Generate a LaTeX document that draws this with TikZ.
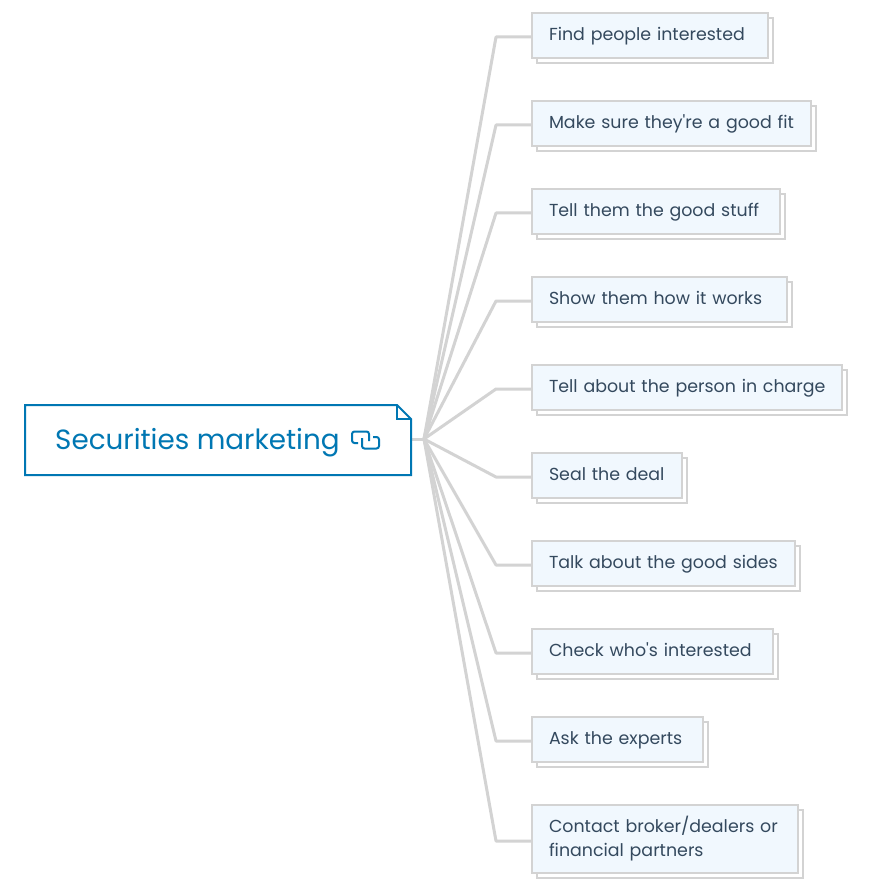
\documentclass[tikz,border=0pt]{standalone}
\usepackage{fontspec}
\setmainfont{Poppins}[Ligatures=TeXOff]
\usetikzlibrary{shadows}
\definecolor{mainblue}{HTML}{0077B3}
\definecolor{linegray}{HTML}{D3D3D3}
\definecolor{itemfill}{HTML}{F1F8FE}
\definecolor{itemtext}{HTML}{34495E}
\tikzset{
  conn/.style={draw=linegray,line width=3pt,line join=round},
  itembox/.style={draw=linegray,line width=2.4pt,fill=itemfill,text=itemtext,
    anchor=north west,outer sep=0pt,inner xsep=17pt,inner ysep=0pt,align=left,
    font=\fontsize{17.4}{24}\selectfont,minimum height=45pt,text height=14pt,text depth=4pt,
    copy shadow={draw=linegray,fill=white,line width=2.4pt,shadow xshift=5pt,shadow yshift=-5pt}},
  mainbox/.style={draw=mainblue,line width=2pt,line join=miter},
  maintext/.style={text=mainblue,anchor=base west,inner sep=0pt,font=\fontsize{27.8}{30}\selectfont},
  iconline/.style={draw=mainblue,line width=2pt,rounded corners=2.5pt}
}
\begin{document}
\begin{tikzpicture}[x=1pt,y=-1pt]
\useasboundingbox (0,0) rectangle (868,890);
\fill[white] (0,0) rectangle (868,890);
\coordinate (hub) at (424,439);
\coordinate (mainright) at (411,439);
\foreach \n/\y in {n1/37,n2/125,n3/213,n4/301,n5/389,n6/477,n7/565,n8/653,n9/741,n10/841}{
  \coordinate (\n elbow) at (496,\y);
  \coordinate (\n end) at (533,\y);
  \draw[conn] (hub) -- (\n elbow) -- (\n end);
}
\draw[conn] (mainright) -- (hub);
\draw[mainbox,fill=white] (25,405) -- (397,405) -- (411,419) -- (411,475) -- (25,475) -- cycle;
\draw[mainbox] (397,405) -- (397,419) -- (411,419);
\node[maintext] (title) at (55,449) {Securities marketing};
\draw[iconline] (358,443) -- (352,443) -- (352,431.5) -- (369,431.5) -- (369,441);
\draw[iconline] (362,438) -- (362,448.5) -- (379,448.5) -- (379,437) -- (373,437);
\node[itembox,text width=202pt] (n1) at (532,13) {\mbox{Find people interested}};
\node[itembox,text width=245pt] (n2) at (532,101) {\mbox{Make sure they're a good fit}};
\node[itembox,text width=214pt] (n3) at (532,189) {\mbox{Tell them the good stuff}};
\node[itembox,text width=221pt] (n4) at (532,277) {\mbox{Show them how it works}};
\node[itembox,text width=276pt] (n5) at (532,365) {\mbox{Tell about the person in charge}};
\node[itembox,text width=116pt] (n6) at (532,453) {\mbox{Seal the deal}};
\node[itembox,text width=229pt] (n7) at (532,541) {\mbox{Talk about the good sides}};
\node[itembox,text width=207pt] (n8) at (532,629) {\mbox{Check who's interested}};
\node[itembox,text width=137pt] (n9) at (532,717) {\mbox{Ask the experts}};
\node[itembox,text width=232pt,minimum height=68pt,text depth=28pt] (n10) at (532,805) {\mbox{Contact broker/dealers or}\\\mbox{financial partners}};
\end{tikzpicture}
\end{document}
